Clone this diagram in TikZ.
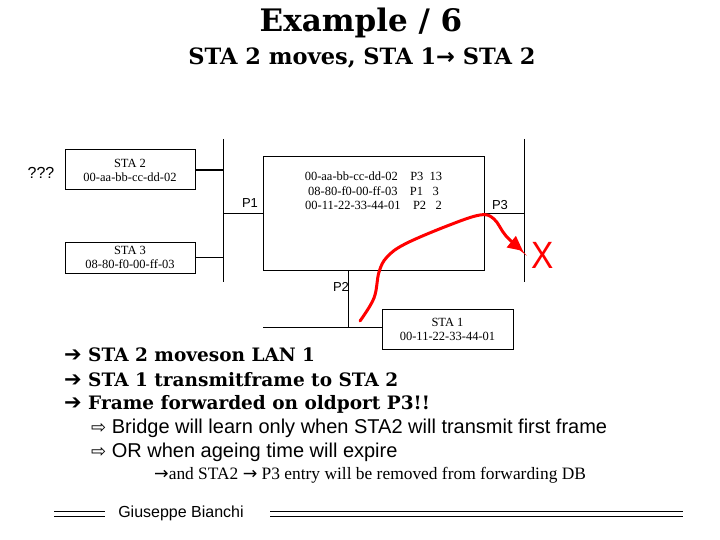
\documentclass[tikz,border=0pt]{standalone}
\usepackage{fontspec}
\setmainfont{Liberation Serif}
\newfontfamily\arialfont{Liberation Sans}
\newfontfamily\wideserif{DejaVu Serif}
\newfontfamily\symbfont{DejaVu Sans}
\usetikzlibrary{positioning, arrows.meta, calc}

\begin{document}
\begin{tikzpicture}[x=1pt, y=-1pt,
    station/.style={draw=black, line width=1pt, rectangle, minimum width=130pt, minimum height=40pt, inner sep=0pt, align=center, font=\fontsize{12.5}{14}\selectfont},
    lan/.style={line width=1pt},
    link/.style={line width=1pt},
    portlabel/.style={font=\arialfont\fontsize{13}{13}\selectfont, inner sep=0pt},
    bullet/.style={anchor=west, inner sep=0pt, font=\wideserif\bfseries\fontsize{18.5}{18.5}\selectfont},
    subbullet/.style={anchor=west, inner sep=0pt, font=\arialfont\fontsize{20}{20}\selectfont},
    redroute/.style={red, line width=3pt, line cap=round, -{Triangle[length=15pt, width=14pt]}}
]
\useasboundingbox (0,0) rectangle (720,540);

% Titel
\node[font=\wideserif\bfseries\fontsize{31}{31}\selectfont] (title) at (361,23) {Example / 6};
\node[font=\wideserif\bfseries\fontsize{22.5}{22.5}\selectfont] (subtitle) at (362,58) {STA 2 moves, STA 1{\symbfont\bfseries→} STA 2};

% Knoten
\node[station] (sta2) at (130,170) {STA 2\\00-aa-bb-cc-dd-02};
\node[station, minimum height=31pt] (sta3) at (130,257.5) {STA 3\\08-80-f0-00-ff-03};
\node[font=\arialfont\fontsize{16}{16}\selectfont] (unknown) at (41,173) {???};
\node[draw=black, line width=1pt, minimum width=221pt, minimum height=113pt] (bridge) at (373.5,213.5) {};
\node[align=center, font=\fontsize{12.5}{14.5}\selectfont, below=12pt of bridge.north] (fdb) {00-aa-bb-cc-dd-02\quad P3\ \ 13\\08-80-f0-00-ff-03\quad P1\ \ \ 3\\00-11-22-33-44-01\quad P2\ \ \ 2};
\node[station, minimum width=131pt] (sta1) at (447.5,329) {STA 1\\00-11-22-33-44-01};

% LANs
\coordinate (lan1top) at (223,139);
\coordinate (lan1bot) at (223,282);
\coordinate (lan3top) at (524,139);
\coordinate (lan3bot) at (524,282);
\coordinate (lan2left) at (263,327);
\coordinate (p2top) at (348,270);
\draw[lan] (lan1top) -- (lan1bot);
\draw[lan] (lan3top) -- (lan3bot);
\draw[lan] (lan2left) -- (lan2left -| sta1.west);

% Kanten zwischen Knoten
\draw[link, line width=2.5pt] (sta2.east) -- (sta2.east -| lan1top);
\draw[link] (sta3.east) -- (sta3.east -| lan1top);
\draw[link] (bridge.west) -- (bridge.west -| lan1top);
\draw[link] (bridge.east) -- (bridge.east -| lan3top);
\draw[link] (p2top) -- (p2top |- lan2left);
\node[portlabel] (p1) at (250,203) {P1};
\node[portlabel] (p3) at (500,205) {P3};
\node[portlabel] (p2) at (341,287) {P2};

% Weg des Rahmens
\draw[redroute] plot[smooth, tension=0.6] coordinates {(360,321) (374,298) (379,272) (387,257) (405,244) (447,226) (480,215) (494,219) (506,236) (523,251)};
\node[red, font=\arialfont\fontsize{38}{38}\selectfont, inner sep=0pt, xscale=0.88] (cross) at (543,255) {X};

% Text
\node[bullet] (b1) at (64,355) {{\symbfont\bfseries\fontsize{21}{21}\selectfont ➔} STA 2 moveson LAN 1};
\node[bullet] (b2) at (64,380) {{\symbfont\bfseries\fontsize{21}{21}\selectfont ➔} STA 1 transmitframe to STA 2};
\node[bullet] (b3) at (64,404) {{\symbfont\bfseries\fontsize{21}{21}\selectfont ➔} Frame forwarded on oldport P3!!};
\node[subbullet] (s1) at (91,428) {{\symbfont\fontsize{18}{18}\selectfont ⇨} Bridge will learn only when STA2 will transmit first frame};
\node[subbullet] (s2) at (91,452) {{\symbfont\fontsize{18}{18}\selectfont ⇨} OR when ageing time will expire};
\node[anchor=west, inner sep=0pt, font=\fontsize{17.4}{17.4}\selectfont] (s3) at (154,475) {{\symbfont →}and STA2 {\symbfont →} P3 entry will be removed from forwarding DB};

% Fusszeile
\node[font=\arialfont\fontsize{16}{16}\selectfont] (author) at (181,513) {Giuseppe Bianchi};
\draw[line width=1pt] (54,511) -- (105,511) (54,516) -- (105,516);
\draw[line width=1pt] (270,511) -- (683,511) (270,516) -- (683,516);

\end{tikzpicture}
\end{document}
